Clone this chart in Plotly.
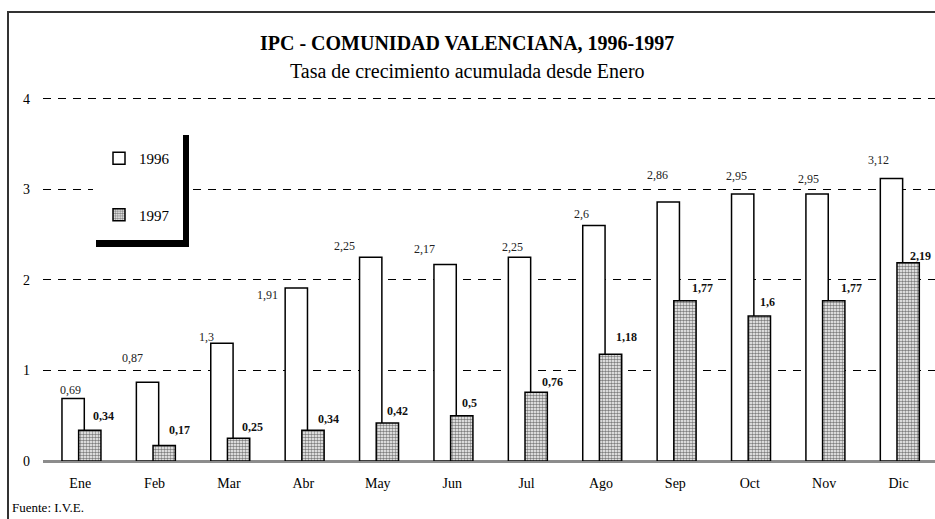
import plotly.graph_objects as go

# ---------------- data ----------------
months = ["Ene", "Feb", "Mar", "Abr", "May", "Jun", "Jul", "Ago", "Sep", "Oct", "Nov", "Dic"]
ipc_1996 = [0.69, 0.87, 1.3, 1.91, 2.25, 2.17, 2.25, 2.6, 2.86, 2.95, 2.95, 3.12]
ipc_1997 = [0.34, 0.17, 0.25, 0.34, 0.42, 0.5, 0.76, 1.18, 1.77, 1.6, 1.77, 2.19]
y_ticks = [0, 1, 2, 3, 4]

# ---------------- style: label nudges (pixels) ----------------
lab96_dx = [-10, -22, -22, -36, -33, -28, -14, -19, -18, -13, -16, -20]
lab96_dy = [9, 24, 6, -7, 11, 16, 10, 12, 27, 18, 15, 18]
lab97_dx = [23, 25, 24, 25, 20, 17, 26, 26, 27, 18, 27, 22]
lab97_dy = [14, 16, 11, 11, 12, 13, 10, 17, 13, 14, 13, 7]

W, H = 935, 519
ML, MR, MT, MB = 43, 0, 97, 58
SERIF = "Liberation Serif"


def fmt(v):
    return ("%g" % v).replace(".", ",")


def px(x):
    return (x - ML) / (W - ML - MR)


def py(y):
    return (H - MB - y) / (H - MT - MB)


fig = go.Figure()
fig.add_trace(go.Bar(
    x=months, y=ipc_1996, name="1996", legendgroup="a",
    offset=-0.245, width=0.30,
    marker=dict(color="white", line=dict(color="black", width=1.5)),
    hoverinfo="x+y",
))
fig.add_trace(go.Bar(
    x=months, y=ipc_1997, name="1997", legendgroup="b",
    offset=-0.021, width=0.30,
    marker=dict(color="white", line=dict(color="black", width=1.5),
                pattern=dict(shape=".", size=3, solidity=0.55,
                             fgcolor="black", bgcolor="white")),
    hoverinfo="x+y",
))

annotations = []
for i, (m, v) in enumerate(zip(months, ipc_1996)):
    annotations.append(dict(x=m, y=v, xref="x", yref="y", text=fmt(v),
                            showarrow=False, xanchor="center", yanchor="middle",
                            xshift=lab96_dx[i], yshift=lab96_dy[i],
                            font=dict(family=SERIF, size=12, color="#222")))
for i, (m, v) in enumerate(zip(months, ipc_1997)):
    annotations.append(dict(x=m, y=v, xref="x", yref="y", text="<b>" + fmt(v) + "</b>",
                            showarrow=False, xanchor="center", yanchor="middle",
                            xshift=lab97_dx[i], yshift=lab97_dy[i],
                            font=dict(family=SERIF, size=12, color="#111")))

annotations += [
    dict(x=px(467), y=py(43), xref="paper", yref="paper", showarrow=False,
         text="<b>IPC - COMUNIDAD VALENCIANA, 1996-1997</b>",
         font=dict(family=SERIF, size=20, color="black"), xanchor="center", yanchor="middle"),
    dict(x=px(467), y=py(71), xref="paper", yref="paper", showarrow=False,
         text="Tasa de crecimiento acumulada desde Enero",
         font=dict(family=SERIF, size=20, color="black"), xanchor="center", yanchor="middle"),
    dict(x=px(10), y=py(507), xref="paper", yref="paper", showarrow=False,
         text="Fuente: I.V.E.",
         font=dict(family=SERIF, size=13, color="black"), xanchor="left", yanchor="middle"),
]

shapes = [
    # outer frame
    dict(type="rect", xref="paper", yref="paper", x0=px(8), x1=px(945), y0=py(12), y1=py(530),
         line=dict(color="#333", width=2), fillcolor="rgba(0,0,0,0)", layer="above"),
    # legend white box
    dict(type="rect", xref="paper", yref="paper", x0=px(93), x1=px(183), y0=py(135), y1=py(240),
         line=dict(width=0), fillcolor="white", layer="above"),
    # legend shadow
    dict(type="rect", xref="paper", yref="paper", x0=px(183), x1=px(189), y0=py(135), y1=py(247),
         line=dict(width=0), fillcolor="black", layer="above"),
    dict(type="rect", xref="paper", yref="paper", x0=px(96), x1=px(189), y0=py(240), y1=py(247),
         line=dict(width=0), fillcolor="black", layer="above"),
]

fig.update_layout(
    width=W, height=H,
    margin=dict(l=ML, r=MR, t=MT, b=MB, autoexpand=False),
    paper_bgcolor="white", plot_bgcolor="white",
    barmode="overlay",
    annotations=annotations, shapes=shapes,
    font=dict(family=SERIF, color="black"),
    showlegend=True,
    legend=dict(x=px(99), y=py(142), xanchor="left", yanchor="top",
                bgcolor="rgba(0,0,0,0)",
                font=dict(family=SERIF, size=15, color="black"),
                tracegroupgap=34, traceorder="grouped", itemwidth=30),
    xaxis=dict(type="category", range=[-0.5, 11.49], showgrid=False, showline=False,
               ticks="", tickfont=dict(family=SERIF, size=14, color="black"),
               ticklabelstandoff=12, fixedrange=True),
    yaxis=dict(range=[0, 4.02], tickvals=y_ticks, ticktext=[str(t) for t in y_ticks],
               showgrid=True, gridcolor="black", gridwidth=1, griddash="8px,7px",
               zeroline=True, zerolinecolor="#8c8c8c", zerolinewidth=3,
               showline=False, ticks="", tickfont=dict(family=SERIF, size=14, color="black"),
               ticklabelstandoff=12, fixedrange=True),
)

fig.write_html("out.html", config={"displayModeBar": False},
               post_script="document.body.style.margin='0';")
